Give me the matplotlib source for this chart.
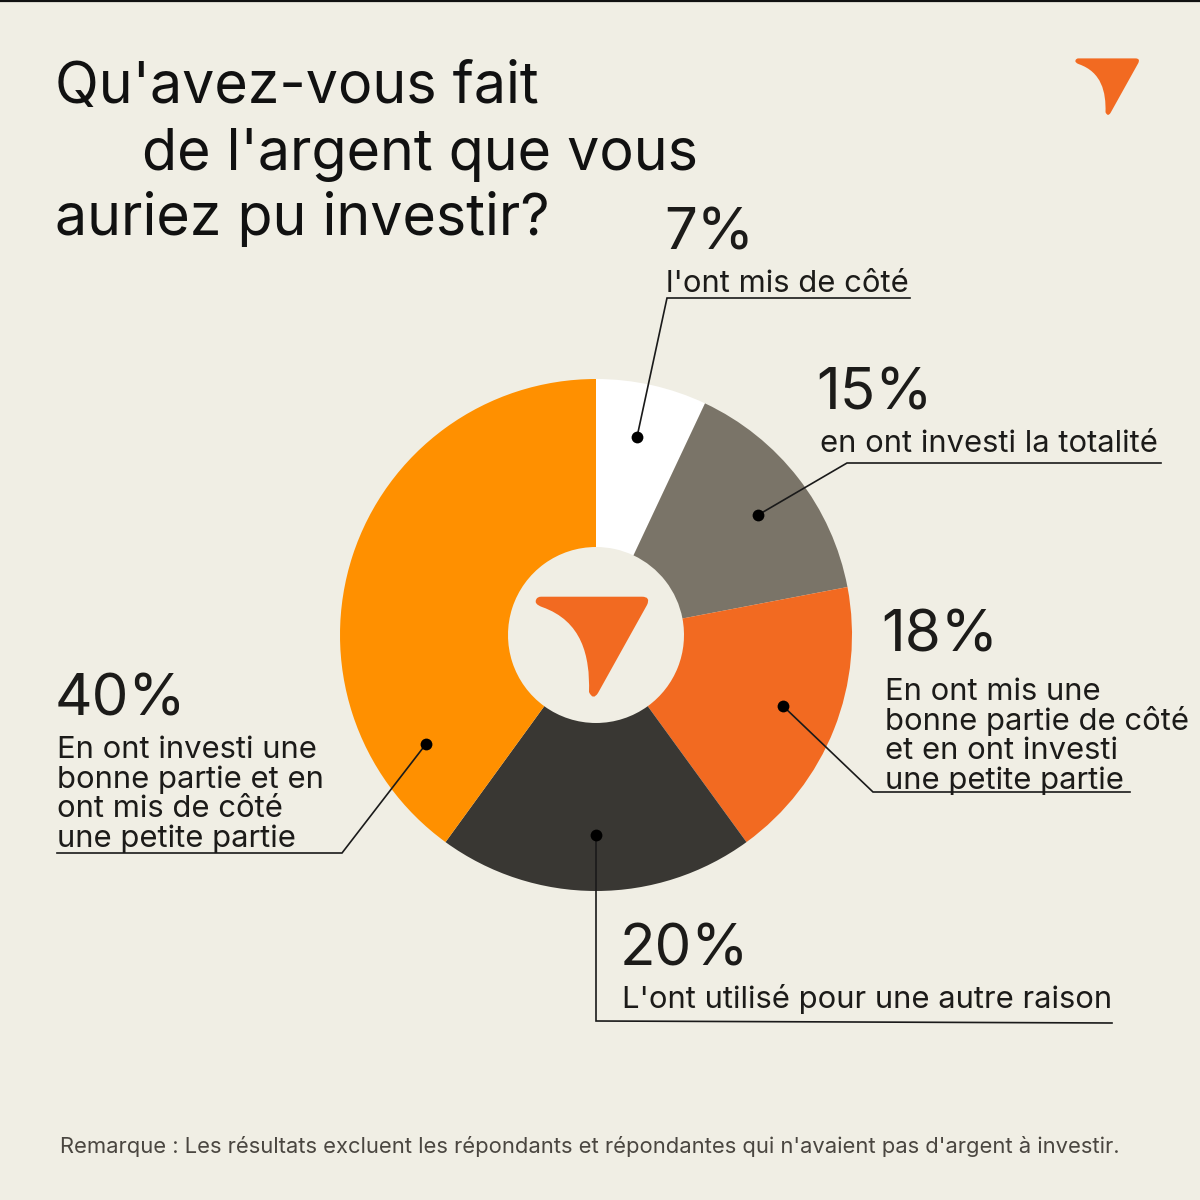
import matplotlib
matplotlib.use("Agg")
import matplotlib.pyplot as plt
from matplotlib.path import Path
from matplotlib.patches import PathPatch

# ---------------- data ----------------
shares = [7, 15, 18, 20, 40]
pct_labels = ["7%", "15%", "18%", "20%", "40%"]
descriptions = [
    ["l'ont mis de côté"],
    ["en ont investi la totalité"],
    ["En ont mis une", "bonne partie de côté", "et en ont investi", "une petite partie"],
    ["L'ont utilisé pour une autre raison"],
    ["En ont investi une", "bonne partie et en", "ont mis de côté", "une petite partie"],
]
slice_colors = ["#FFFFFF", "#7A7468", "#F26A21", "#393733", "#FF9000"]
title_lines = ["Qu'avez-vous fait", "de l'argent que vous", "auriez pu investir?"]
note = ("Remarque : Les résultats excluent les répondants et répondantes qui "
        "n'avaient pas d'argent à investir.")

# ---------------- style ----------------
BG = "#F0EEE4"
TXT = "#1C1B19"
FONT = ["Inter", "DejaVu Sans"]
plt.rcParams["font.family"] = FONT

W = H = 1200
fig = plt.figure(figsize=(12, 12), dpi=100, facecolor=BG)
ax = fig.add_axes([0, 0, 1, 1])
ax.set_facecolor(BG)


def Y(y):
    return H - y


# donut
cx, cy, R, r_in = 596, 635, 256, 88
ax.pie(shares, colors=slice_colors, startangle=90, counterclock=False,
       center=(cx, Y(cy)), radius=R,
       wedgeprops=dict(width=R - r_in, linewidth=0, antialiased=True))
ax.set_xlim(0, W)
ax.set_ylim(0, H)
ax.set_aspect("equal")
ax.axis("off")

# top border line
ax.plot([0, W], [Y(0.8), Y(0.8)], color="#111111", lw=1.6, solid_capstyle="butt")


# logo
def logo(ox, oy, s):
    pts = [(6, 0.7), (107, 0.7), (116, 0.7), (112, 9), (63, 97),
           (58, 105), (54, 96), (55, 60), (47, 25), (7, 11),
           (-1, 8), (1, 4), (2, 0.7), (6, 0.7), (6, 0.7)]
    codes = [Path.MOVETO, Path.LINETO, Path.CURVE3, Path.CURVE3, Path.LINETO,
             Path.CURVE3, Path.CURVE3, Path.CURVE4, Path.CURVE4, Path.CURVE4,
             Path.CURVE3, Path.CURVE3, Path.CURVE3, Path.CURVE3, Path.CLOSEPOLY]
    verts = [(ox + s * px, Y(oy + s * py)) for px, py in pts]
    ax.add_patch(PathPatch(Path(verts, codes), facecolor="#F26A21",
                           edgecolor="none", zorder=5))


logo(535, 596, 1.0)
logo(1075, 58, 0.565)

# title
title_pos = [(55, 103), (142, 170), (55, 235)]
for (tx, ty), line in zip(title_pos, title_lines):
    ax.text(tx, Y(ty), line, fontsize=41.3, color="#111111", va="baseline",
            ha="left")

# leaders: dot, path (pixel coords)
dots = [(637, 437), (758, 515), (783, 706), (596, 835), (426, 744)]
paths = [
    [(637, 437), (667, 298), (910, 298)],
    [(758, 515), (847, 463), (1161, 463)],
    [(783, 706), (873, 792), (1130, 792)],
    [(596, 835), (596, 1021), (1112, 1023)],
    [(426, 744), (342, 853), (57, 853)],
]
for (dx, dy), p in zip(dots, paths):
    ax.plot([q[0] for q in p], [Y(q[1]) for q in p], color="#1A1A1A", lw=1.2,
            zorder=6, solid_joinstyle="miter")
    ax.plot([dx], [Y(dy)], marker="o", ms=8.5, color="#000000", zorder=7,
            markeredgewidth=0)

# percentage + description positions (x, baseline y)
pct_pos = [(664, 249), (816, 410), (881, 652), (620, 966), (55, 715)]
desc_x = [666, 820, 885, 622, 57]
desc_base = [[292], [452], [700, 730, 759, 789], [1008], [758, 788, 817, 847]]
for i in range(len(shares)):
    px, py = pct_pos[i]
    ax.text(px, Y(py), pct_labels[i], fontsize=42, color=TXT, va="baseline",
            ha="left")
    for line, by in zip(descriptions[i], desc_base[i]):
        ax.text(desc_x[i], Y(by), line, fontsize=22.3, color=TXT,
                va="baseline", ha="left")

# footnote
ax.text(60, Y(1153), note, fontsize=15.8, color="#4A4640", va="baseline",
        ha="left")

fig.savefig("out.png", dpi=100, facecolor=BG)
